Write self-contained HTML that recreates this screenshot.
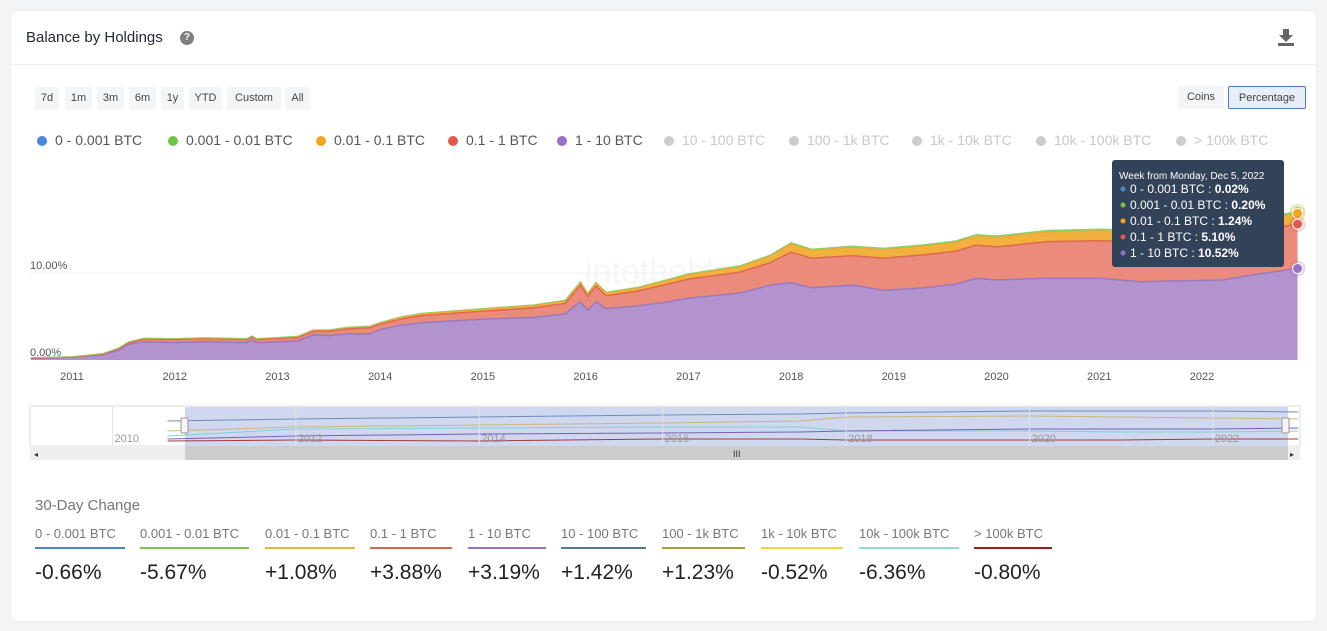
<!DOCTYPE html>
<html><head><meta charset="utf-8">
<style>
*{box-sizing:border-box;margin:0;padding:0}
body{width:1327px;height:631px;background:#f3f4f6;font-family:"Liberation Sans",sans-serif;position:relative;overflow:hidden}
.card{position:absolute;left:10px;top:10px;width:1307px;height:612px;background:#fff;border-radius:8px;border:1px solid #eceef1}
.title{position:absolute;left:16px;top:19px;font-size:15px;color:#222a33}
.help{position:absolute;left:170px;top:21px;width:14px;height:14px;border-radius:50%;background:#808080;color:#fff;font-size:10px;font-weight:bold;text-align:center;line-height:14px}
.hr{position:absolute;left:0;top:54px;width:100%;height:1px;background:#eceef1}
.btn{position:absolute;top:87px;height:23px;background:#f4f5f6;border-radius:2px;font-size:11px;color:#444;line-height:23px;text-align:center}
.leg{position:absolute;top:132px;font-size:14px;color:#555;white-space:nowrap}
.leg i{display:inline-block;width:10px;height:10px;border-radius:50%;margin-right:8px;vertical-align:-1px}
.leg.off{color:#c8c8c8}
.ch{position:absolute;top:513px}
.ch .l{font-size:13px;color:#777;white-space:nowrap;padding:0 0 6px}
.ch .u{height:2px}
.ch .v{font-size:21px;color:#222;margin-top:12px;white-space:nowrap}
svg{position:absolute;left:0;top:0}
</style></head><body>
<div class="card"></div>
<div style="position:absolute;left:10px;top:10px;width:1307px;height:612px">
<div class="title">Balance by Holdings</div>
<div class="help">?</div>
<div class="hr"></div>
</div>
<svg width="1327" height="631" id="s"></svg>
<script>
// ---- data ----
const years=[2010.6,2011.0,2011.3,2011.45,2011.55,2011.7,2012.0,2012.3,2012.7,2012.75,2012.8,2013.0,2013.2,2013.35,2013.5,2013.7,2013.9,2014.0,2014.2,2014.4,2015.0,2015.5,2015.8,2015.95,2016.02,2016.1,2016.2,2016.5,2016.75,2017.0,2017.5,2017.8,2018.0,2018.2,2018.6,2018.9,2019.3,2019.6,2019.8,2020.0,2020.5,2021.0,2021.4,2021.8,2022.2,2022.5,2022.93];
const s1to10=[0.2,0.3,0.6,1.1,1.8,2.1,2.0,2.1,2.0,2.3,2.0,2.1,2.2,2.9,2.8,3.0,3.0,3.5,4.0,4.3,4.7,4.9,5.3,6.7,5.7,6.7,5.9,6.2,6.6,7.1,7.7,8.6,8.9,8.3,8.6,8.0,8.3,8.7,9.4,9.2,9.4,9.4,9.0,9.1,9.2,9.8,10.52];
const s01to1=[0.05,0.05,0.1,0.2,0.2,0.3,0.35,0.35,0.35,0.35,0.35,0.35,0.4,0.4,0.5,0.6,0.7,0.6,0.7,0.8,0.9,1.1,1.2,1.9,1.6,1.8,1.5,1.7,2.0,2.2,2.4,2.6,3.5,3.4,3.4,3.7,3.8,3.8,3.8,3.8,4.2,4.3,4.6,4.7,4.9,5.0,5.10];
const s001to01=[0.02,0.03,0.04,0.06,0.08,0.1,0.1,0.1,0.1,0.1,0.1,0.12,0.12,0.14,0.14,0.15,0.16,0.18,0.2,0.22,0.25,0.27,0.3,0.35,0.3,0.35,0.32,0.35,0.4,0.5,0.6,0.75,0.95,0.9,0.95,1.0,1.0,1.02,1.05,1.1,1.12,1.15,1.18,1.2,1.22,1.23,1.24];
const s0001to001=[0.01,0.01,0.01,0.02,0.02,0.02,0.03,0.03,0.03,0.03,0.03,0.04,0.04,0.05,0.05,0.05,0.06,0.06,0.07,0.07,0.08,0.09,0.1,0.1,0.1,0.1,0.1,0.11,0.12,0.13,0.14,0.15,0.16,0.16,0.17,0.17,0.18,0.18,0.19,0.19,0.2,0.2,0.2,0.2,0.2,0.2,0.20];
const s0to0001=[0,0,0,0,0,0,0.01,0.01,0.01,0.01,0.01,0.01,0.01,0.01,0.01,0.01,0.01,0.01,0.01,0.01,0.01,0.01,0.01,0.01,0.01,0.01,0.01,0.01,0.02,0.02,0.02,0.02,0.02,0.02,0.02,0.02,0.02,0.02,0.02,0.02,0.02,0.02,0.02,0.02,0.02,0.02,0.02];
const xTicks=[2011,2012,2013,2014,2015,2016,2017,2018,2019,2020,2021,2022];
const yTicks=[0,10];
const navYears=[2010.6,2012,2014,2016,2017.5,2018,2020,2021,2022,2022.93];
const navA=[70,72,74,76,77,78,80,80,80,79];
const navB=[60,64,66,68,70,74,75,74,73,72];
const navC=[55,62,63,64,64,60,60,59,59,60];
const navD=[52,55,57,58,59,60,62,62,62,63];
const navE=[50,51,50,52,52,51,51,51,52,52];
const changeLabels=["0 - 0.001 BTC","0.001 - 0.01 BTC","0.01 - 0.1 BTC","0.1 - 1 BTC","1 - 10 BTC","10 - 100 BTC","100 - 1k BTC","1k - 10k BTC","10k - 100k BTC","> 100k BTC"];
const changeValues=["-0.66%","-5.67%","+1.08%","+3.88%","+3.19%","+1.42%","+1.23%","-0.52%","-6.36%","-0.80%"];
const changeColors=["#4a86c8","#7cc24f","#e8b33a","#d9634b","#9a6fbf","#5a7a8c","#a5a13a","#f0d23c","#8fdccb","#9e1c1c"];

// ---- axes ----
const X0=72,X1=1202,Y0=360,Y10=273;
const xs=y=>X0+(y-2011)*(X1-X0)/11;
const ys=v=>Y0-v*(Y0-Y10)/10;
const NS="http://www.w3.org/2000/svg";
const s=document.getElementById('s');
function mk(tag,at,txt){const e=document.createElementNS(NS,tag);for(const k in at)e.setAttribute(k,at[k]);if(txt!=null)e.textContent=txt;s.appendChild(e);return e;}

const g10=mk('line',{x1:30,x2:1300,y1:ys(10),y2:ys(10),stroke:'#eeeeee'});


yTicks.forEach(v=>{const t=mk('text',{x:30,y:ys(v)-4,'font-size':11,fill:'#555'},v.toFixed(2)+'%');

});
const wm=mk('text',{x:585,y:283,'font-size':34,fill:'#f6f6f8','font-family':'Liberation Sans'},'intotheblock');



const series=[s1to10,s01to1,s001to01,s0001to001,s0to0001];
const cols=['#b293cd','#ea8b7b','#f2b13d','#8fcf6b','#5b9be0'];
const lines=['#9c78c0','#e0684f','#eba63a','#8fcf6b','#8fcf6b'];
const lw=[1.5,1.5,1,0.8,0];
const names=['area-1-10-btc','area-0.1-1-btc','area-0.01-0.1-btc','area-0.001-0.01-btc','area-0-0.001-btc'];
let base=years.map(()=>0);
const tops=[];
series.forEach((arr,k)=>{
  const top=base.map((b,i)=>b+arr[i]);
  let d='M'+years.map((y,i)=>xs(y)+','+ys(top[i])).join('L');
  for(let i=years.length-1;i>=0;i--)d+='L'+xs(years[i])+','+ys(base[i]);
  const p=mk('path',{d:d+'Z',fill:cols[k]});
  
  
  tops.push(top);base=top;
});
tops.forEach((top,k)=>{
  if(!lw[k])return;
  const l=mk('polyline',{points:years.map((y,i)=>xs(y)+','+ys(top[i])).join(' '),fill:'none',stroke:lines[k],'stroke-width':lw[k]});
  
  
});
xTicks.forEach(y=>{const t=mk('text',{x:xs(y),y:380,'font-size':11,fill:'#555','text-anchor':'middle'},String(y));

});
const last=years.length-1;
[[4,'#8fcf6b'],[2,'#f2a51c'],[1,'#e6574a'],[0,'#9c6fc6']].forEach(([k,c])=>{
  mk('circle',{cx:xs(years[last]),cy:ys(tops[k][last]),r:8,fill:c,opacity:0.25});
  const m=mk('circle',{cx:xs(years[last]),cy:ys(tops[k][last]),r:5,fill:c,stroke:'#fff','stroke-width':1});
  
  
});

const nb=mk('rect',{x:30,y:406,width:1270,height:40,fill:'#fff',stroke:'#ddd'});


const sel=mk('rect',{x:185,y:407,width:1103,height:39,fill:'#cfd8ef'});


const nx=y=>30+(y-2009.1)*(1300-30)/(2022.95-2009.1);
const ny=v=>446-(v-45)*40/40;
[[navA,'#6d8cba'],[navB,'#c8b87a'],[navC,'#7fd3d3'],[navD,'#7a5fb5'],[navE,'#a53a3a']].forEach(([a,c])=>{
  const l=mk('polyline',{points:navYears.map((y,i)=>nx(y)+','+ny(a[i])).join(' '),fill:'none',stroke:c,'stroke-width':1});
  
  
});
[2010,2012,2014,2016,2018,2020,2022].forEach(y=>{
  mk('line',{x1:nx(y),x2:nx(y),y1:407,y2:446,stroke:'#e2e4ea'});
  const t=mk('text',{x:nx(y)+2,y:442,'font-size':11,fill:'#999'},String(y));
  
  
});
[184,1285].forEach(x=>{const h=mk('rect',{x:x-3,y:418,width:7,height:15,fill:'#f4f4f4',stroke:'#999',rx:1});

});
const sb=mk('rect',{x:30,y:446,width:1270,height:14,fill:'#eee'});


const th=mk('rect',{x:185,y:446,width:1103,height:14,fill:'#cccccc'});


mk('text',{x:733,y:457,'font-size':9,fill:'#333'},'III');
mk('text',{x:34,y:457,'font-size':8,fill:'#333'},'◂');
mk('text',{x:1290,y:457,'font-size':8,fill:'#333'},'▸');

const tt=mk('rect',{x:1112,y:160,width:172,height:107,rx:3,fill:'#324259'});


mk('text',{x:1119,y:179,'font-size':10,fill:'#fff'},'Week from Monday, Dec 5, 2022');
const ttl=["0 - 0.001 BTC","0.001 - 0.01 BTC","0.01 - 0.1 BTC","0.1 - 1 BTC","1 - 10 BTC"];
const ttv=[s0to0001[last],s0001to001[last],s001to01[last],s01to1[last],s1to10[last]];
const ttc=['#4a86c8','#7cc24f','#f2a51c','#e6574a','#9c6fc6'];
ttl.forEach((l,i)=>{
  const y=193+i*16;
  mk('circle',{cx:1123,cy:y-4,r:2.5,fill:ttc[i]});
  const t=mk('text',{x:1130,y:y,'font-size':12,fill:'#fff'});
  
  
  t.innerHTML=l+' : <tspan font-weight="bold">'+ttv[i].toFixed(2)+'%</tspan>';
});
mk('path',{d:'M1283 29h6v6h4l-7 7-7-7h4zM1278 43h16v3h-16z',fill:'#666'});
</script>
<div id="ctrl">
<div class="btn" style="left:35px;width:24px">7d</div>
<div class="btn" style="left:65px;width:27px">1m</div>
<div class="btn" style="left:97px;width:27px">3m</div>
<div class="btn" style="left:129px;width:27px">6m</div>
<div class="btn" style="left:161px;width:23px">1y</div>
<div class="btn" style="left:189px;width:33px">YTD</div>
<div class="btn" style="left:227px;width:54px">Custom</div>
<div class="btn" style="left:285px;width:25px">All</div>
<div class="btn" style="left:1178px;width:46px;top:86px;background:#f4f5f6">Coins</div>
<div class="btn" style="left:1228px;width:78px;top:86px;background:#e8eef9;border:1px solid #4a7bd0">Percentage</div>
</div>
<div class="leg" style="left:37px"><i style="background:#4a86e0"></i>0 - 0.001 BTC</div>
<div class="leg" style="left:168px"><i style="background:#6fc64a"></i>0.001 - 0.01 BTC</div>
<div class="leg" style="left:316px"><i style="background:#f2a51c"></i>0.01 - 0.1 BTC</div>
<div class="leg" style="left:448px"><i style="background:#e6574a"></i>0.1 - 1 BTC</div>
<div class="leg" style="left:557px"><i style="background:#9c6fc6"></i>1 - 10 BTC</div>
<div class="leg off" style="left:664px"><i style="background:#ccc"></i>10 - 100 BTC</div>
<div class="leg off" style="left:789px"><i style="background:#ccc"></i>100 - 1k BTC</div>
<div class="leg off" style="left:912px"><i style="background:#ccc"></i>1k - 10k BTC</div>
<div class="leg off" style="left:1036px"><i style="background:#ccc"></i>10k - 100k BTC</div>
<div class="leg off" style="left:1176px"><i style="background:#ccc"></i>&gt; 100k BTC</div>
<div style="position:absolute;left:35px;top:497px;font-size:15px;color:#777">30-Day Change</div>
<div id="changes"></div>
<script>
const lefts=[35,140,265,370,468,561,662,761,859,974];
const widths=[90,109,90,82,78,85,83,82,100,78];
const host=document.getElementById('changes');
changeLabels.forEach((l,i)=>{
  const d=document.createElement('div');
  d.className='ch';
  
  
  d.style.left=lefts[i]+'px';d.style.top='526px';d.style.width=widths[i]+'px';
  d.innerHTML='<div class="l">'+l.replace('>','&gt;')+'</div><div class="u" style="background:'+changeColors[i]+'"></div><div class="v">'+changeValues[i]+'</div>';
  host.appendChild(d);
});
</script>
</body></html>
